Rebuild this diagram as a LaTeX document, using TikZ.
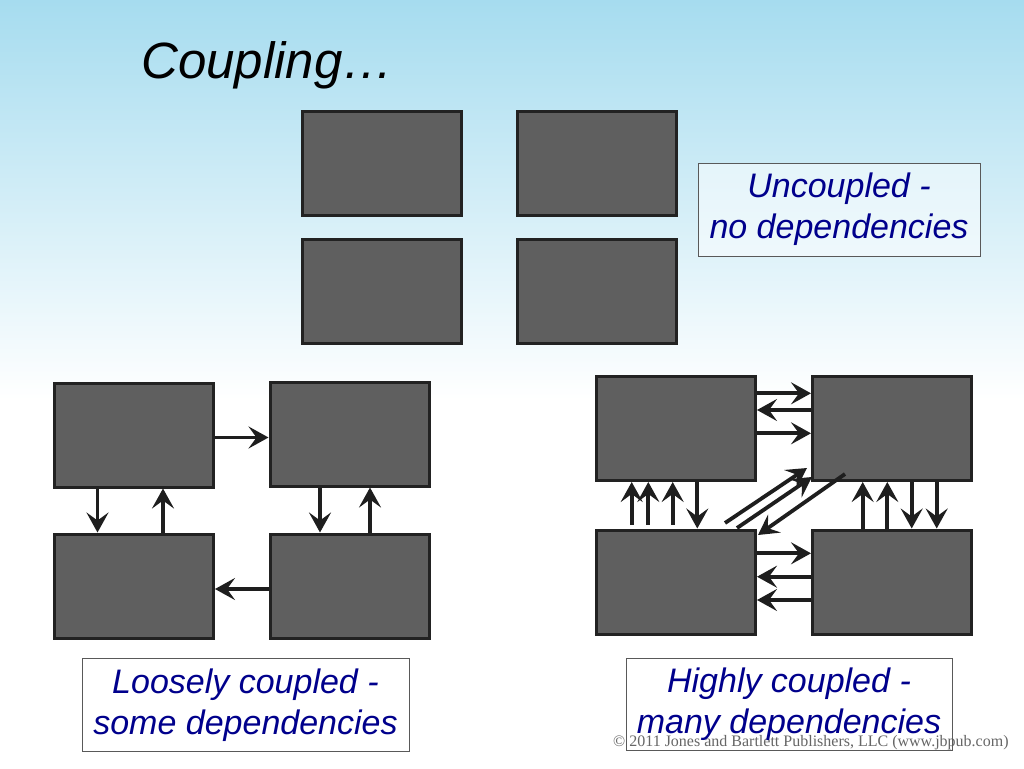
\documentclass[tikz,border=0pt]{standalone}
\usepackage{fontspec}
\setmainfont{Liberation Sans}
\newfontfamily\serifcr{Liberation Serif}
\usetikzlibrary{arrows.meta}
\definecolor{bgblue}{HTML}{A6DCEF}
\definecolor{boxfill}{HTML}{5F5F5F}
\definecolor{boxline}{HTML}{222222}
\definecolor{arrcol}{HTML}{1E1E1E}
\definecolor{navy}{RGB}{0,0,140}
\begin{document}
\begin{tikzpicture}[x=1pt,y=-1pt,
  blk/.style={draw=boxline, fill=boxfill, line width=3pt, minimum width=159pt, minimum height=104pt, inner sep=0pt},
  arr/.style={draw=arrcol, line width=3.8pt, -{Stealth[length=20pt, width=22pt, inset=8pt]}},
  lbl/.style={draw=black!65, line width=0.8pt, align=center, text=navy, font=\fontsize{34}{41}\selectfont\itshape, inner sep=0pt}
]
\useasboundingbox (0,0) rectangle (1024,768);
\fill[white] (0,0) rectangle (1024,768);
\shade[top color=bgblue, bottom color=white] (0,0) rectangle (1024,400);

% title
\node[anchor=base west, inner sep=0pt, font=\fontsize{51}{60}\selectfont\itshape] (title) at (141,78) {Coupling…};

% uncoupled
\node[blk] (U1) at (382,163.5) {};
\node[blk] (U2) at (597,163.5) {};
\node[blk] (U3) at (382,291.5) {};
\node[blk] (U4) at (597,291.5) {};
\node[lbl, fill=white, fill opacity=0.5, text opacity=1, minimum width=282pt, minimum height=93pt] (uc) at (839,209.5) {Uncoupled -\\no dependencies};

% loosely coupled
\node[blk] (L1) at (134,435) {};
\node[blk] (L2) at (349.5,434) {};
\node[blk] (L3) at (134,586) {};
\node[blk] (L4) at (349.5,586) {};
\draw[arr] ([yshift=-2.5pt]L1.east) -- ([yshift=-3.5pt]L2.west);
\draw[arr] ([yshift=-3pt]L4.west) -- ([yshift=-3pt]L3.east);
\draw[arr] ([xshift=-36.5pt]L1.south) -- ([xshift=-36.5pt]L3.north);
\draw[arr] ([xshift=29pt]L3.north) -- ([xshift=29pt]L1.south);
\draw[arr] ([xshift=-29.5pt]L2.south) -- ([xshift=-29.5pt]L4.north);
\draw[arr] ([xshift=20.5pt]L4.north) -- ([xshift=20.5pt]L2.south);
\node[lbl, minimum width=327pt, minimum height=93pt] (lc) at (245.5,705) {Loosely coupled -\\some dependencies};

% highly coupled
\node[blk] (H1) at (676,428.5) {};
\node[blk] (H2) at (892,428.5) {};
\node[blk] (H3) at (676,582) {};
\node[blk] (H4) at (892,582) {};
\draw[arr] ([yshift=35.2pt]H1.east) -- ([yshift=35.2pt]H2.west);
\draw[arr] ([yshift=18.5pt]H2.west) -- ([yshift=18.5pt]H1.east);
\draw[arr] ([yshift=-4.8pt]H1.east) -- ([yshift=-4.8pt]H2.west);
\draw[arr] ([yshift=28.7pt]H3.east) -- ([yshift=28.7pt]H4.west);
\draw[arr] ([yshift=5.3pt]H4.west) -- ([yshift=5.3pt]H3.east);
\draw[arr] ([yshift=-18pt]H4.west) -- ([yshift=-18pt]H3.east);
\draw[arr] ([xshift=-44.3pt,yshift=4pt]H3.north) -- ([xshift=-44.3pt]H1.south);
\draw[arr] ([xshift=-27.7pt,yshift=4pt]H3.north) -- ([xshift=-27.7pt]H1.south);
\draw[arr] ([xshift=-3.3pt,yshift=4pt]H3.north) -- ([xshift=-3.3pt]H1.south);
\draw[arr] ([xshift=21.3pt]H1.south) -- ([xshift=21.3pt]H3.north);
\draw[arr] ([xshift=-29.3pt]H4.north) -- ([xshift=-29.3pt]H2.south);
\draw[arr] ([xshift=-4.7pt]H4.north) -- ([xshift=-4.7pt]H2.south);
\draw[arr] ([xshift=19.7pt]H2.south) -- ([xshift=19.7pt]H4.north);
\draw[arr] ([xshift=44.7pt]H2.south) -- ([xshift=44.7pt]H4.north);
\coordinate (d1s) at (725,523);
\coordinate (d1e) at (807,468);
\coordinate (d2s) at (737,528);
\coordinate (d2e) at (812,477);
\coordinate (d3s) at (845,474);
\coordinate (d3e) at (758,535);
\draw[arr] (d1s) -- (d1e);
\draw[arr] (d2s) -- (d2e);
\draw[arr] (d3s) -- (d3e);

\node[anchor=base west, inner sep=0pt, text=black!60, font=\serifcr\fontsize{16}{18}\selectfont] (copy) at (613,746) {© 2011 Jones and Bartlett Publishers, LLC (www.jbpub.com)};
\node[lbl, minimum width=326pt, minimum height=92pt] (hc) at (789,704) {Highly coupled -\\many dependencies};
\end{tikzpicture}
\end{document}
